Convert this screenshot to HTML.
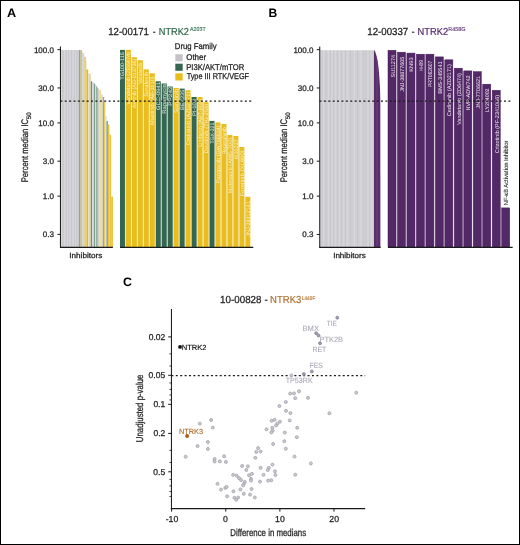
<!DOCTYPE html>
<html><head><meta charset="utf-8"><style>
html,body{margin:0;padding:0;background:#fff;}
svg{display:block;will-change:transform;}
text{font-family:"Liberation Sans", sans-serif;text-rendering:geometricPrecision;}
</style></head><body>
<svg width="520" height="545" viewBox="0 0 520 545">
<rect x="0.5" y="0.5" width="519" height="544" fill="#fff" stroke="#000" stroke-width="1"/>
<text x="6.98" y="16.85" font-size="12.2" fill="#000" textLength="9.15" lengthAdjust="spacingAndGlyphs" font-weight="bold">A</text>
<text x="108.16" y="34.80" font-size="10.2" fill="#1e1e1e" textLength="40.81" lengthAdjust="spacingAndGlyphs" stroke="#1e1e1e" stroke-width="0.26">12-00171</text>
<text x="152.64" y="34.80" font-size="10.2" fill="#1e1e1e" textLength="2.73" lengthAdjust="spacingAndGlyphs" stroke="#1e1e1e" stroke-width="0.26">-</text>
<text x="158.74" y="34.80" font-size="10.2" fill="#2c6549" textLength="30.22" lengthAdjust="spacingAndGlyphs" stroke="#2c6549" stroke-width="0.2">NTRK2</text>
<text x="190.09" y="30.90" font-size="5.6" fill="#3f7459" textLength="15.53" lengthAdjust="spacingAndGlyphs" stroke="#3f7459" stroke-width="0.15">A203T</text>
<rect x="60.95" y="50.00" width="17.85" height="197.00" fill="#d0cfd4" />
<rect x="78.80" y="50.00" width="1.85" height="197.00" fill="#8fa598" />
<rect x="80.65" y="50.00" width="1.45" height="197.00" fill="#e2c458" />
<rect x="82.10" y="52.00" width="2.15" height="195.00" fill="#d2d2e0" />
<rect x="84.25" y="56.90" width="1.65" height="190.10" fill="#e4c868" />
<rect x="85.90" y="60.00" width="0.50" height="187.00" fill="#e6d49a" />
<rect x="86.40" y="69.50" width="1.80" height="177.50" fill="#e8b918" />
<rect x="88.20" y="73.00" width="0.70" height="174.00" fill="#dcdce4" />
<rect x="88.90" y="73.60" width="1.90" height="173.40" fill="#e6d6a0" />
<rect x="90.80" y="81.20" width="1.30" height="165.80" fill="#6a9080" />
<rect x="92.10" y="82.00" width="1.70" height="165.00" fill="#d8d8dc" />
<rect x="93.80" y="83.50" width="1.30" height="163.50" fill="#80a090" />
<rect x="95.10" y="84.30" width="1.20" height="162.70" fill="#d8d8e4" />
<rect x="96.30" y="86.30" width="0.90" height="160.70" fill="#6f9585" />
<rect x="97.20" y="87.80" width="1.10" height="159.20" fill="#bcb064" />
<rect x="98.30" y="88.90" width="0.80" height="158.10" fill="#c4cac8" />
<rect x="99.10" y="90.00" width="2.00" height="157.00" fill="#eedc9c" />
<rect x="101.10" y="94.70" width="1.70" height="152.30" fill="#d6d6e2" />
<rect x="102.80" y="97.00" width="1.40" height="150.00" fill="#aaa86a" />
<rect x="104.20" y="102.00" width="1.10" height="145.00" fill="#e8c440" />
<rect x="105.30" y="116.00" width="1.30" height="131.00" fill="#d4d4e2" />
<rect x="106.60" y="121.00" width="1.20" height="126.00" fill="#6a9080" />
<rect x="107.80" y="124.60" width="1.60" height="122.40" fill="#e6c23c" />
<rect x="109.40" y="134.80" width="1.80" height="112.20" fill="#e8c448" />
<rect x="111.20" y="196.70" width="1.70" height="50.30" fill="#e9c030" />
<polygon points="82.1,49.9 84.3,49.9 84.3,55.2 82.1,50.0" fill="#fff"/>
<rect x="62.55" y="50.00" width="0.90" height="197.00" fill="#c7c6cb" />
<rect x="65.85" y="50.00" width="0.90" height="197.00" fill="#c7c6cb" />
<rect x="68.25" y="50.00" width="0.90" height="197.00" fill="#c7c6cb" />
<rect x="71.05" y="50.00" width="0.90" height="197.00" fill="#c7c6cb" />
<rect x="73.85" y="50.00" width="0.90" height="197.00" fill="#c7c6cb" />
<rect x="76.35" y="50.00" width="0.90" height="197.00" fill="#c7c6cb" />
<rect x="60.90" y="50.00" width="1.00" height="197.00" fill="#d9d9dd" />
<rect x="64.20" y="50.00" width="1.00" height="197.00" fill="#d9d9dd" />
<rect x="67.00" y="50.00" width="1.00" height="197.00" fill="#d9d9dd" />
<rect x="69.40" y="50.00" width="1.00" height="197.00" fill="#d9d9dd" />
<rect x="72.60" y="50.00" width="1.00" height="197.00" fill="#d9d9dd" />
<rect x="75.10" y="50.00" width="1.00" height="197.00" fill="#d9d9dd" />
<rect x="124.95" y="49.90" width="1.02" height="197.10" fill="#ede6c6" />
<rect x="130.92" y="57.20" width="1.02" height="189.80" fill="#f6ebc2" />
<rect x="136.89" y="60.20" width="1.02" height="186.80" fill="#f6ebc2" />
<rect x="142.86" y="69.40" width="1.02" height="177.60" fill="#f6ebc2" />
<rect x="148.83" y="73.30" width="1.02" height="173.70" fill="#f6ebc2" />
<rect x="154.80" y="81.30" width="1.02" height="165.70" fill="#ede6c6" />
<rect x="160.77" y="83.50" width="1.02" height="163.50" fill="#d2ddd6" />
<rect x="166.74" y="86.50" width="1.02" height="160.50" fill="#d2ddd6" />
<rect x="172.71" y="88.00" width="1.02" height="159.00" fill="#ede6c6" />
<rect x="178.68" y="88.60" width="1.02" height="158.40" fill="#ede6c6" />
<rect x="184.65" y="90.30" width="1.02" height="156.70" fill="#ede6c6" />
<rect x="190.62" y="97.00" width="1.02" height="150.00" fill="#ede6c6" />
<rect x="196.59" y="97.00" width="1.02" height="150.00" fill="#ede6c6" />
<rect x="202.56" y="102.20" width="1.02" height="144.80" fill="#f6ebc2" />
<rect x="208.53" y="120.90" width="1.02" height="126.10" fill="#ede6c6" />
<rect x="214.50" y="122.40" width="1.02" height="124.60" fill="#ede6c6" />
<rect x="220.47" y="124.00" width="1.02" height="123.00" fill="#f6ebc2" />
<rect x="226.44" y="135.00" width="1.02" height="112.00" fill="#f6ebc2" />
<rect x="232.41" y="136.00" width="1.02" height="111.00" fill="#f6ebc2" />
<rect x="238.38" y="147.00" width="1.02" height="100.00" fill="#f6ebc2" />
<rect x="244.35" y="196.80" width="1.02" height="50.20" fill="#f6ebc2" />
<rect x="120.00" y="49.90" width="4.95" height="197.10" fill="#356750" />
<rect x="125.97" y="49.90" width="4.95" height="197.10" fill="#e9bd1d" />
<rect x="131.94" y="57.20" width="4.95" height="189.80" fill="#e9bd1d" />
<rect x="137.91" y="60.20" width="4.95" height="186.80" fill="#e9bd1d" />
<rect x="143.88" y="69.40" width="4.95" height="177.60" fill="#e9bd1d" />
<rect x="149.85" y="73.30" width="4.95" height="173.70" fill="#e9bd1d" />
<rect x="155.82" y="81.30" width="4.95" height="165.70" fill="#356750" />
<rect x="161.79" y="83.50" width="4.95" height="163.50" fill="#356750" />
<rect x="167.76" y="86.50" width="4.95" height="160.50" fill="#356750" />
<rect x="173.73" y="88.00" width="4.95" height="159.00" fill="#e9bd1d" />
<rect x="179.70" y="88.60" width="4.95" height="158.40" fill="#356750" />
<rect x="185.67" y="90.30" width="4.95" height="156.70" fill="#e9bd1d" />
<rect x="191.64" y="97.00" width="4.95" height="150.00" fill="#356750" />
<rect x="197.61" y="97.00" width="4.95" height="150.00" fill="#e9bd1d" />
<rect x="203.58" y="102.20" width="4.95" height="144.80" fill="#e9bd1d" />
<rect x="209.55" y="120.90" width="4.95" height="126.10" fill="#356750" />
<rect x="215.52" y="122.40" width="4.95" height="124.60" fill="#e9bd1d" />
<rect x="221.49" y="124.00" width="4.95" height="123.00" fill="#e9bd1d" />
<rect x="227.46" y="135.00" width="4.95" height="112.00" fill="#e9bd1d" />
<rect x="233.43" y="136.00" width="4.95" height="111.00" fill="#e9bd1d" />
<rect x="239.40" y="147.00" width="4.95" height="100.00" fill="#e9bd1d" />
<rect x="245.37" y="196.80" width="4.95" height="50.20" fill="#e9bd1d" />
<text transform="translate(124.30,79.72) rotate(-90)" font-size="5.1" fill="#e6eee9" textLength="27.55" lengthAdjust="spacingAndGlyphs">TG100-115</text>
<text transform="translate(130.27,104.62) rotate(-90)" font-size="5.1" fill="#fcf3d0" textLength="52.57" lengthAdjust="spacingAndGlyphs">Vandetanib (ZD6474)</text>
<text transform="translate(136.24,108.31) rotate(-90)" font-size="5.1" fill="#fcf3d0" textLength="49.64" lengthAdjust="spacingAndGlyphs">Axitinib (AG-013736)</text>
<text transform="translate(142.21,84.02) rotate(-90)" font-size="5.1" fill="#fcf3d0" textLength="21.54" lengthAdjust="spacingAndGlyphs">Vatalanib</text>
<text transform="translate(148.18,96.76) rotate(-90)" font-size="5.1" fill="#fcf3d0" textLength="24.70" lengthAdjust="spacingAndGlyphs">Sorafenib</text>
<text transform="translate(154.15,124.95) rotate(-90)" font-size="5.1" fill="#fcf3d0" textLength="48.60" lengthAdjust="spacingAndGlyphs">Masitinib (AB-1010)</text>
<text transform="translate(160.12,109.89) rotate(-90)" font-size="5.1" fill="#e6eee9" textLength="27.78" lengthAdjust="spacingAndGlyphs">GDC-0941</text>
<text transform="translate(166.09,113.78) rotate(-90)" font-size="5.1" fill="#e6eee9" textLength="29.57" lengthAdjust="spacingAndGlyphs">Rapamycin</text>
<text transform="translate(172.06,105.73) rotate(-90)" font-size="5.1" fill="#e6eee9" textLength="19.25" lengthAdjust="spacingAndGlyphs">PP242</text>
<text transform="translate(178.03,112.89) rotate(-90)" font-size="5.1" fill="#fcf3d0" textLength="24.15" lengthAdjust="spacingAndGlyphs">Sunitinib</text>
<text transform="translate(184.00,110.07) rotate(-90)" font-size="5.1" fill="#e6eee9" textLength="20.50" lengthAdjust="spacingAndGlyphs">BEZ235</text>
<text transform="translate(189.97,145.19) rotate(-90)" font-size="5.1" fill="#fcf3d0" textLength="53.54" lengthAdjust="spacingAndGlyphs">Cediranib (AZD2171)</text>
<text transform="translate(195.94,115.97) rotate(-90)" font-size="5.1" fill="#e6eee9" textLength="16.82" lengthAdjust="spacingAndGlyphs">PI-103</text>
<text transform="translate(201.91,146.86) rotate(-90)" font-size="5.1" fill="#fcf3d0" textLength="47.80" lengthAdjust="spacingAndGlyphs">Linifanib (ABT-869)</text>
<text transform="translate(207.88,153.49) rotate(-90)" font-size="5.1" fill="#fcf3d0" textLength="50.07" lengthAdjust="spacingAndGlyphs">Dovitinib (TKI-258)</text>
<text transform="translate(213.85,143.62) rotate(-90)" font-size="5.1" fill="#e6eee9" textLength="20.97" lengthAdjust="spacingAndGlyphs">TGX-221</text>
<text transform="translate(219.82,183.34) rotate(-90)" font-size="5.1" fill="#fcf3d0" textLength="57.88" lengthAdjust="spacingAndGlyphs">Pazopanib (GW786034)</text>
<text transform="translate(225.79,154.31) rotate(-90)" font-size="5.1" fill="#fcf3d0" textLength="27.12" lengthAdjust="spacingAndGlyphs">Regorafenib</text>
<text transform="translate(231.76,193.26) rotate(-90)" font-size="5.1" fill="#fcf3d0" textLength="55.41" lengthAdjust="spacingAndGlyphs">Motesanib (AMG-706)</text>
<text transform="translate(237.73,159.35) rotate(-90)" font-size="5.1" fill="#fcf3d0" textLength="20.13" lengthAdjust="spacingAndGlyphs">Ki20227</text>
<text transform="translate(243.70,196.59) rotate(-90)" font-size="5.1" fill="#fcf3d0" textLength="46.36" lengthAdjust="spacingAndGlyphs">Foretinib (XL880)</text>
<text transform="translate(249.67,236.79) rotate(-90)" font-size="5.1" fill="#fcf3d0" textLength="35.65" lengthAdjust="spacingAndGlyphs">JNJ-28312141</text>
<line x1="60.30" y1="101.05" x2="252.00" y2="101.05" stroke="#1a1a1a" stroke-width="1.2" stroke-dasharray="2 2.393"/>
<line x1="60.45" y1="46.60" x2="60.45" y2="247.90" stroke="#1a1a1a" stroke-width="1.05" />
<line x1="57.45" y1="49.67" x2="60.45" y2="49.67" stroke="#1a1a1a" stroke-width="1.0" />
<text x="33.89" y="52.62" font-size="8.0" fill="#1e1e1e" textLength="20.02" lengthAdjust="spacingAndGlyphs" stroke="#1e1e1e" stroke-width="0.26">100.0</text>
<line x1="57.45" y1="87.96" x2="60.45" y2="87.96" stroke="#1a1a1a" stroke-width="1.0" />
<text x="38.34" y="90.91" font-size="8.0" fill="#1e1e1e" textLength="15.57" lengthAdjust="spacingAndGlyphs" stroke="#1e1e1e" stroke-width="0.26">30.0</text>
<line x1="57.45" y1="122.90" x2="60.45" y2="122.90" stroke="#1a1a1a" stroke-width="1.0" />
<text x="38.34" y="125.85" font-size="8.0" fill="#1e1e1e" textLength="15.57" lengthAdjust="spacingAndGlyphs" stroke="#1e1e1e" stroke-width="0.26">10.0</text>
<line x1="57.45" y1="161.19" x2="60.45" y2="161.19" stroke="#1a1a1a" stroke-width="1.0" />
<text x="42.79" y="164.14" font-size="8.0" fill="#1e1e1e" textLength="11.12" lengthAdjust="spacingAndGlyphs" stroke="#1e1e1e" stroke-width="0.26">3.0</text>
<line x1="57.45" y1="196.13" x2="60.45" y2="196.13" stroke="#1a1a1a" stroke-width="1.0" />
<text x="42.79" y="199.08" font-size="8.0" fill="#1e1e1e" textLength="11.12" lengthAdjust="spacingAndGlyphs" stroke="#1e1e1e" stroke-width="0.26">1.0</text>
<line x1="57.45" y1="234.42" x2="60.45" y2="234.42" stroke="#1a1a1a" stroke-width="1.0" />
<text x="42.83" y="237.37" font-size="8.0" fill="#1e1e1e" textLength="11.12" lengthAdjust="spacingAndGlyphs" stroke="#1e1e1e" stroke-width="0.26">0.3</text>
<text transform="translate(27.90,182.23) rotate(-90)" font-size="9.6" fill="#1e1e1e" textLength="63.32" lengthAdjust="spacingAndGlyphs" stroke="#1e1e1e" stroke-width="0.26">Percent median IC</text>
<text transform="translate(30.60,119.25) rotate(-90)" font-size="6.4" fill="#1e1e1e" textLength="6.89" lengthAdjust="spacingAndGlyphs" stroke="#1e1e1e" stroke-width="0.26">50</text>
<line x1="60.00" y1="247.40" x2="112.90" y2="247.40" stroke="#1a1a1a" stroke-width="1.1" />
<line x1="120.00" y1="247.40" x2="253.30" y2="247.40" stroke="#1a1a1a" stroke-width="1.1" />
<text x="69.25" y="257.80" font-size="7.6" fill="#1e1e1e" textLength="33.05" lengthAdjust="spacingAndGlyphs" stroke="#1e1e1e" stroke-width="0.26">Inhibitors</text>
<text x="174.86" y="48.95" font-size="8.4" fill="#1e1e1e" textLength="41.75" lengthAdjust="spacingAndGlyphs" stroke="#1e1e1e" stroke-width="0.26">Drug Family</text>
<rect x="175.30" y="54.20" width="7.40" height="7.10" fill="#c4c2c7" />
<rect x="175.30" y="63.70" width="7.40" height="7.10" fill="#346650" />
<rect x="175.30" y="73.30" width="7.40" height="7.20" fill="#e8bc1c" />
<text x="186.22" y="60.20" font-size="8.4" fill="#1e1e1e" textLength="19.91" lengthAdjust="spacingAndGlyphs" stroke="#1e1e1e" stroke-width="0.26">Other</text>
<text x="186.17" y="69.70" font-size="8.4" fill="#1e1e1e" textLength="58.18" lengthAdjust="spacingAndGlyphs" stroke="#1e1e1e" stroke-width="0.26">PI3K/AKT/mTOR</text>
<text x="186.64" y="78.70" font-size="8.4" fill="#1e1e1e" textLength="62.45" lengthAdjust="spacingAndGlyphs" stroke="#1e1e1e" stroke-width="0.26">Type III RTK/VEGF</text>
<text x="268.59" y="17.00" font-size="12.2" fill="#000" textLength="8.76" lengthAdjust="spacingAndGlyphs" font-weight="bold">B</text>
<text x="367.26" y="34.70" font-size="10.2" fill="#1e1e1e" textLength="41.03" lengthAdjust="spacingAndGlyphs" stroke="#1e1e1e" stroke-width="0.26">12-00337</text>
<text x="411.74" y="34.70" font-size="10.2" fill="#1e1e1e" textLength="2.73" lengthAdjust="spacingAndGlyphs" stroke="#1e1e1e" stroke-width="0.26">-</text>
<text x="417.53" y="34.70" font-size="10.2" fill="#56286d" textLength="30.64" lengthAdjust="spacingAndGlyphs" stroke="#56286d" stroke-width="0.2">NTRK2</text>
<text x="448.35" y="30.90" font-size="5.6" fill="#6a3f82" textLength="17.25" lengthAdjust="spacingAndGlyphs" stroke="#6a3f82" stroke-width="0.15">R458G</text>
<rect x="320.25" y="50.30" width="53.75" height="196.70" fill="#d0cfd4" />
<rect x="321.55" y="50.30" width="0.90" height="196.70" fill="#c7c6cb" />
<rect x="325.55" y="50.30" width="0.90" height="196.70" fill="#c7c6cb" />
<rect x="329.95" y="50.30" width="0.90" height="196.70" fill="#c7c6cb" />
<rect x="333.45" y="50.30" width="0.90" height="196.70" fill="#c7c6cb" />
<rect x="337.15" y="50.30" width="0.90" height="196.70" fill="#c7c6cb" />
<rect x="341.25" y="50.30" width="0.90" height="196.70" fill="#c7c6cb" />
<rect x="344.95" y="50.30" width="0.90" height="196.70" fill="#c7c6cb" />
<rect x="350.15" y="50.30" width="0.90" height="196.70" fill="#c7c6cb" />
<rect x="357.05" y="50.30" width="0.90" height="196.70" fill="#c7c6cb" />
<rect x="362.85" y="50.30" width="0.90" height="196.70" fill="#c7c6cb" />
<rect x="365.75" y="50.30" width="0.90" height="196.70" fill="#c7c6cb" />
<rect x="369.25" y="50.30" width="0.90" height="196.70" fill="#c7c6cb" />
<rect x="372.65" y="50.30" width="0.90" height="196.70" fill="#c7c6cb" />
<rect x="320.40" y="50.30" width="1.00" height="196.70" fill="#d9d9dd" />
<rect x="323.30" y="50.30" width="1.00" height="196.70" fill="#d9d9dd" />
<rect x="327.90" y="50.30" width="1.00" height="196.70" fill="#d9d9dd" />
<rect x="331.60" y="50.30" width="1.00" height="196.70" fill="#d9d9dd" />
<rect x="334.80" y="50.30" width="1.00" height="196.70" fill="#d9d9dd" />
<rect x="338.80" y="50.30" width="1.00" height="196.70" fill="#d9d9dd" />
<rect x="343.20" y="50.30" width="1.00" height="196.70" fill="#d9d9dd" />
<rect x="346.80" y="50.30" width="1.00" height="196.70" fill="#d9d9dd" />
<rect x="354.20" y="50.30" width="1.00" height="196.70" fill="#d9d9dd" />
<rect x="360.50" y="50.30" width="1.00" height="196.70" fill="#d9d9dd" />
<rect x="367.40" y="50.30" width="1.00" height="196.70" fill="#d9d9dd" />
<rect x="370.90" y="50.30" width="1.00" height="196.70" fill="#d9d9dd" />
<polygon points="374.0,50.3 375.0,51.0 376.6,56 377.8,62 378.6,68 379.4,78 380.0,88 380.3,100 380.4,247.0 374.0,247.0" fill="#5a2e6c"/>
<rect x="376.60" y="60.00" width="0.80" height="187.00" fill="#6f4a82" />
<rect x="396.00" y="52.20" width="1.48" height="194.80" fill="#f0e9f3" />
<rect x="405.48" y="53.10" width="1.47" height="193.90" fill="#f0e9f3" />
<rect x="414.95" y="54.20" width="1.48" height="192.80" fill="#f0e9f3" />
<rect x="424.43" y="54.20" width="1.47" height="192.80" fill="#f0e9f3" />
<rect x="433.90" y="56.90" width="1.48" height="190.10" fill="#f0e9f3" />
<rect x="443.38" y="59.80" width="1.48" height="187.20" fill="#f0e9f3" />
<rect x="452.85" y="68.20" width="1.47" height="178.80" fill="#f0e9f3" />
<rect x="462.32" y="70.90" width="1.48" height="176.10" fill="#f0e9f3" />
<rect x="471.80" y="71.70" width="1.47" height="175.30" fill="#f0e9f3" />
<rect x="481.27" y="84.20" width="1.48" height="162.80" fill="#f0e9f3" />
<rect x="490.75" y="90.30" width="1.48" height="156.70" fill="#f0e9f3" />
<rect x="500.23" y="207.90" width="1.47" height="39.10" fill="#f0e9f3" />
<rect x="388.00" y="50.30" width="8.00" height="196.70" fill="#532866" stroke="#44195a" stroke-width="0.5"/>
<rect x="397.48" y="52.20" width="8.00" height="194.80" fill="#532866" stroke="#44195a" stroke-width="0.5"/>
<rect x="406.95" y="53.10" width="8.00" height="193.90" fill="#532866" stroke="#44195a" stroke-width="0.5"/>
<rect x="416.43" y="54.20" width="8.00" height="192.80" fill="#532866" stroke="#44195a" stroke-width="0.5"/>
<rect x="425.90" y="54.20" width="8.00" height="192.80" fill="#532866" stroke="#44195a" stroke-width="0.5"/>
<rect x="435.38" y="56.90" width="8.00" height="190.10" fill="#532866" stroke="#44195a" stroke-width="0.5"/>
<rect x="444.85" y="59.80" width="8.00" height="187.20" fill="#532866" stroke="#44195a" stroke-width="0.5"/>
<rect x="454.32" y="68.20" width="8.00" height="178.80" fill="#532866" stroke="#44195a" stroke-width="0.5"/>
<rect x="463.80" y="70.90" width="8.00" height="176.10" fill="#532866" stroke="#44195a" stroke-width="0.5"/>
<rect x="473.27" y="71.70" width="8.00" height="175.30" fill="#532866" stroke="#44195a" stroke-width="0.5"/>
<rect x="482.75" y="84.20" width="8.00" height="162.80" fill="#532866" stroke="#44195a" stroke-width="0.5"/>
<rect x="492.23" y="90.30" width="8.00" height="156.70" fill="#532866" stroke="#44195a" stroke-width="0.5"/>
<rect x="501.70" y="207.90" width="8.00" height="39.10" fill="#532866" stroke="#44195a" stroke-width="0.5"/>
<text transform="translate(394.50,77.55) rotate(-90)" font-size="5.4" fill="#f4eef7" textLength="22.60" lengthAdjust="spacingAndGlyphs">SU11274</text>
<text transform="translate(403.98,91.78) rotate(-90)" font-size="5.4" fill="#f4eef7" textLength="35.11" lengthAdjust="spacingAndGlyphs">JNJ-38877605</text>
<text transform="translate(413.45,71.77) rotate(-90)" font-size="5.4" fill="#f4eef7" textLength="14.43" lengthAdjust="spacingAndGlyphs">KN93</text>
<text transform="translate(422.93,70.91) rotate(-90)" font-size="5.4" fill="#f4eef7" textLength="10.85" lengthAdjust="spacingAndGlyphs">H-89</text>
<text transform="translate(432.40,87.11) rotate(-90)" font-size="5.4" fill="#f4eef7" textLength="26.35" lengthAdjust="spacingAndGlyphs">PRT062607</text>
<text transform="translate(441.88,93.75) rotate(-90)" font-size="5.4" fill="#f4eef7" textLength="32.32" lengthAdjust="spacingAndGlyphs">BMS-345541</text>
<text transform="translate(451.35,116.18) rotate(-90)" font-size="5.4" fill="#f4eef7" textLength="52.02" lengthAdjust="spacingAndGlyphs">Cediranib (AZD2171)</text>
<text transform="translate(460.82,124.82) rotate(-90)" font-size="5.4" fill="#f4eef7" textLength="51.76" lengthAdjust="spacingAndGlyphs">Vandetanib (ZD6474)</text>
<text transform="translate(470.30,110.55) rotate(-90)" font-size="5.4" fill="#f4eef7" textLength="35.23" lengthAdjust="spacingAndGlyphs">NVP-ADW742</text>
<text transform="translate(479.77,108.49) rotate(-90)" font-size="5.4" fill="#f4eef7" textLength="32.65" lengthAdjust="spacingAndGlyphs">JNJ-7706621</text>
<text transform="translate(489.25,111.92) rotate(-90)" font-size="5.4" fill="#f4eef7" textLength="23.38" lengthAdjust="spacingAndGlyphs">LY294002</text>
<text transform="translate(498.73,153.18) rotate(-90)" font-size="5.4" fill="#f4eef7" textLength="58.22" lengthAdjust="spacingAndGlyphs">Crizotinib (PF-2341066)</text>
<text transform="translate(508.30,205.27) rotate(-90)" font-size="6.0" fill="#1e1e1e" textLength="64.77" lengthAdjust="spacingAndGlyphs" stroke="#1e1e1e" stroke-width="0.08">NF-κB Activation Inhibitor</text>
<line x1="319.50" y1="101.05" x2="510.70" y2="101.05" stroke="#1a1a1a" stroke-width="1.2" stroke-dasharray="2 2.393"/>
<line x1="319.75" y1="46.60" x2="319.75" y2="247.90" stroke="#1a1a1a" stroke-width="1.05" />
<line x1="316.75" y1="49.67" x2="319.75" y2="49.67" stroke="#1a1a1a" stroke-width="1.0" />
<text x="293.39" y="52.62" font-size="8.0" fill="#1e1e1e" textLength="20.02" lengthAdjust="spacingAndGlyphs" stroke="#1e1e1e" stroke-width="0.26">100.0</text>
<line x1="316.75" y1="87.96" x2="319.75" y2="87.96" stroke="#1a1a1a" stroke-width="1.0" />
<text x="297.84" y="90.91" font-size="8.0" fill="#1e1e1e" textLength="15.57" lengthAdjust="spacingAndGlyphs" stroke="#1e1e1e" stroke-width="0.26">30.0</text>
<line x1="316.75" y1="122.90" x2="319.75" y2="122.90" stroke="#1a1a1a" stroke-width="1.0" />
<text x="297.84" y="125.85" font-size="8.0" fill="#1e1e1e" textLength="15.57" lengthAdjust="spacingAndGlyphs" stroke="#1e1e1e" stroke-width="0.26">10.0</text>
<line x1="316.75" y1="161.19" x2="319.75" y2="161.19" stroke="#1a1a1a" stroke-width="1.0" />
<text x="302.29" y="164.14" font-size="8.0" fill="#1e1e1e" textLength="11.12" lengthAdjust="spacingAndGlyphs" stroke="#1e1e1e" stroke-width="0.26">3.0</text>
<line x1="316.75" y1="196.13" x2="319.75" y2="196.13" stroke="#1a1a1a" stroke-width="1.0" />
<text x="302.29" y="199.08" font-size="8.0" fill="#1e1e1e" textLength="11.12" lengthAdjust="spacingAndGlyphs" stroke="#1e1e1e" stroke-width="0.26">1.0</text>
<line x1="316.75" y1="234.42" x2="319.75" y2="234.42" stroke="#1a1a1a" stroke-width="1.0" />
<text x="302.33" y="237.37" font-size="8.0" fill="#1e1e1e" textLength="11.12" lengthAdjust="spacingAndGlyphs" stroke="#1e1e1e" stroke-width="0.26">0.3</text>
<text transform="translate(287.40,182.23) rotate(-90)" font-size="9.6" fill="#1e1e1e" textLength="63.32" lengthAdjust="spacingAndGlyphs" stroke="#1e1e1e" stroke-width="0.26">Percent median IC</text>
<text transform="translate(290.10,119.25) rotate(-90)" font-size="6.4" fill="#1e1e1e" textLength="6.89" lengthAdjust="spacingAndGlyphs" stroke="#1e1e1e" stroke-width="0.26">50</text>
<line x1="319.40" y1="247.40" x2="380.70" y2="247.40" stroke="#1a1a1a" stroke-width="1.1" />
<line x1="388.00" y1="247.40" x2="512.70" y2="247.40" stroke="#1a1a1a" stroke-width="1.1" />
<text x="333.16" y="257.80" font-size="7.6" fill="#1e1e1e" textLength="32.53" lengthAdjust="spacingAndGlyphs" stroke="#1e1e1e" stroke-width="0.26">Inhibitors</text>
<text x="122.99" y="285.90" font-size="12.2" fill="#000" textLength="8.95" lengthAdjust="spacingAndGlyphs" font-weight="bold">C</text>
<text x="220.05" y="302.90" font-size="10.2" fill="#1e1e1e" textLength="41.47" lengthAdjust="spacingAndGlyphs" stroke="#1e1e1e" stroke-width="0.26">10-00828</text>
<text x="264.46" y="302.90" font-size="10.2" fill="#1e1e1e" textLength="3.27" lengthAdjust="spacingAndGlyphs" stroke="#1e1e1e" stroke-width="0.26">-</text>
<text x="270.12" y="302.90" font-size="10.2" fill="#b07030" textLength="31.20" lengthAdjust="spacingAndGlyphs" stroke="#b07030" stroke-width="0.2">NTRK3</text>
<text x="301.81" y="299.80" font-size="5.6" fill="#b87c3c" textLength="13.58" lengthAdjust="spacingAndGlyphs" stroke="#b87c3c" stroke-width="0.15">L449F</text>
<line x1="171.45" y1="308.90" x2="171.45" y2="509.10" stroke="#1a1a1a" stroke-width="1.05" />
<line x1="170.80" y1="508.60" x2="365.20" y2="508.60" stroke="#1a1a1a" stroke-width="1.1" />
<line x1="168.20" y1="336.90" x2="171.45" y2="336.90" stroke="#1a1a1a" stroke-width="1.0" />
<text x="148.68" y="339.90" font-size="8.5" fill="#1e1e1e" textLength="16.54" lengthAdjust="spacingAndGlyphs" stroke="#1e1e1e" stroke-width="0.26">0.02</text>
<line x1="168.20" y1="375.30" x2="171.45" y2="375.30" stroke="#1a1a1a" stroke-width="1.0" />
<text x="148.61" y="378.30" font-size="8.5" fill="#1e1e1e" textLength="16.54" lengthAdjust="spacingAndGlyphs" stroke="#1e1e1e" stroke-width="0.26">0.05</text>
<line x1="168.20" y1="404.35" x2="171.45" y2="404.35" stroke="#1a1a1a" stroke-width="1.0" />
<text x="153.40" y="407.35" font-size="8.5" fill="#1e1e1e" textLength="11.82" lengthAdjust="spacingAndGlyphs" stroke="#1e1e1e" stroke-width="0.26">0.1</text>
<line x1="168.20" y1="433.40" x2="171.45" y2="433.40" stroke="#1a1a1a" stroke-width="1.0" />
<text x="153.41" y="436.40" font-size="8.5" fill="#1e1e1e" textLength="11.82" lengthAdjust="spacingAndGlyphs" stroke="#1e1e1e" stroke-width="0.26">0.2</text>
<line x1="168.20" y1="471.80" x2="171.45" y2="471.80" stroke="#1a1a1a" stroke-width="1.0" />
<text x="153.34" y="474.80" font-size="8.5" fill="#1e1e1e" textLength="11.82" lengthAdjust="spacingAndGlyphs" stroke="#1e1e1e" stroke-width="0.26">0.5</text>
<line x1="169.40" y1="353.89" x2="171.45" y2="353.89" stroke="#1a1a1a" stroke-width="0.8" />
<line x1="169.40" y1="365.95" x2="171.45" y2="365.95" stroke="#1a1a1a" stroke-width="0.8" />
<line x1="169.40" y1="382.94" x2="171.45" y2="382.94" stroke="#1a1a1a" stroke-width="0.8" />
<line x1="169.40" y1="389.40" x2="171.45" y2="389.40" stroke="#1a1a1a" stroke-width="0.8" />
<line x1="169.40" y1="395.00" x2="171.45" y2="395.00" stroke="#1a1a1a" stroke-width="0.8" />
<line x1="169.40" y1="399.94" x2="171.45" y2="399.94" stroke="#1a1a1a" stroke-width="0.8" />
<line x1="169.40" y1="450.39" x2="171.45" y2="450.39" stroke="#1a1a1a" stroke-width="0.8" />
<line x1="169.40" y1="462.45" x2="171.45" y2="462.45" stroke="#1a1a1a" stroke-width="0.8" />
<line x1="169.40" y1="479.44" x2="171.45" y2="479.44" stroke="#1a1a1a" stroke-width="0.8" />
<line x1="169.40" y1="485.90" x2="171.45" y2="485.90" stroke="#1a1a1a" stroke-width="0.8" />
<line x1="169.40" y1="491.50" x2="171.45" y2="491.50" stroke="#1a1a1a" stroke-width="0.8" />
<line x1="169.40" y1="496.44" x2="171.45" y2="496.44" stroke="#1a1a1a" stroke-width="0.8" />
<line x1="171.62" y1="508.60" x2="171.62" y2="511.60" stroke="#1a1a1a" stroke-width="1.0" />
<text x="165.66" y="521.60" font-size="8.7" fill="#1e1e1e" textLength="12.57" lengthAdjust="spacingAndGlyphs" stroke="#1e1e1e" stroke-width="0.26">-10</text>
<line x1="225.75" y1="508.60" x2="225.75" y2="511.60" stroke="#1a1a1a" stroke-width="1.0" />
<text x="223.03" y="521.60" font-size="8.7" fill="#1e1e1e" textLength="4.84" lengthAdjust="spacingAndGlyphs" stroke="#1e1e1e" stroke-width="0.26">0</text>
<line x1="279.88" y1="508.60" x2="279.88" y2="511.60" stroke="#1a1a1a" stroke-width="1.0" />
<text x="275.13" y="521.60" font-size="8.7" fill="#1e1e1e" textLength="9.68" lengthAdjust="spacingAndGlyphs" stroke="#1e1e1e" stroke-width="0.26">10</text>
<line x1="334.01" y1="508.60" x2="334.01" y2="511.60" stroke="#1a1a1a" stroke-width="1.0" />
<text x="329.32" y="521.60" font-size="8.7" fill="#1e1e1e" textLength="9.68" lengthAdjust="spacingAndGlyphs" stroke="#1e1e1e" stroke-width="0.26">20</text>
<text x="230.26" y="535.60" font-size="10.0" fill="#1e1e1e" textLength="75.93" lengthAdjust="spacingAndGlyphs" stroke="#1e1e1e" stroke-width="0.26">Difference in medians</text>
<text transform="translate(143.00,442.20) rotate(-90)" font-size="10.0" fill="#1e1e1e" textLength="67.55" lengthAdjust="spacingAndGlyphs" stroke="#1e1e1e" stroke-width="0.26">Unadjusted p-value</text>
<line x1="171.40" y1="375.60" x2="365.20" y2="375.60" stroke="#1a1a1a" stroke-width="1.1" stroke-dasharray="2 2.393"/>
<circle cx="273.1" cy="444" r="1.5" fill="#cacad0" stroke="#a5a5b0" stroke-width="0.85"/>
<circle cx="258.1" cy="448.1" r="1.5" fill="#cacad0" stroke="#a5a5b0" stroke-width="0.85"/>
<circle cx="256.3" cy="451.9" r="1.5" fill="#cacad0" stroke="#a5a5b0" stroke-width="0.85"/>
<circle cx="260.6" cy="451.5" r="1.5" fill="#cacad0" stroke="#a5a5b0" stroke-width="0.85"/>
<circle cx="255.3" cy="457.8" r="1.5" fill="#cacad0" stroke="#a5a5b0" stroke-width="0.85"/>
<circle cx="224.1" cy="456.3" r="1.5" fill="#cacad0" stroke="#a5a5b0" stroke-width="0.85"/>
<circle cx="214.6" cy="459" r="1.5" fill="#cacad0" stroke="#a5a5b0" stroke-width="0.85"/>
<circle cx="214.6" cy="461.5" r="1.5" fill="#cacad0" stroke="#a5a5b0" stroke-width="0.85"/>
<circle cx="219.8" cy="461.3" r="1.5" fill="#cacad0" stroke="#a5a5b0" stroke-width="0.85"/>
<circle cx="225.9" cy="461.9" r="1.5" fill="#cacad0" stroke="#a5a5b0" stroke-width="0.85"/>
<circle cx="242.1" cy="466" r="1.5" fill="#cacad0" stroke="#a5a5b0" stroke-width="0.85"/>
<circle cx="247.9" cy="466.3" r="1.5" fill="#cacad0" stroke="#a5a5b0" stroke-width="0.85"/>
<circle cx="246.3" cy="470" r="1.5" fill="#cacad0" stroke="#a5a5b0" stroke-width="0.85"/>
<circle cx="260.6" cy="467.8" r="1.5" fill="#cacad0" stroke="#a5a5b0" stroke-width="0.85"/>
<circle cx="268.8" cy="467.8" r="1.5" fill="#cacad0" stroke="#a5a5b0" stroke-width="0.85"/>
<circle cx="267.8" cy="470" r="1.5" fill="#cacad0" stroke="#a5a5b0" stroke-width="0.85"/>
<circle cx="272.5" cy="464.6" r="1.5" fill="#cacad0" stroke="#a5a5b0" stroke-width="0.85"/>
<circle cx="275.0" cy="471.3" r="1.5" fill="#cacad0" stroke="#a5a5b0" stroke-width="0.85"/>
<circle cx="275.4" cy="475" r="1.5" fill="#cacad0" stroke="#a5a5b0" stroke-width="0.85"/>
<circle cx="233.1" cy="474.8" r="1.5" fill="#cacad0" stroke="#a5a5b0" stroke-width="0.85"/>
<circle cx="236.6" cy="475.6" r="1.5" fill="#cacad0" stroke="#a5a5b0" stroke-width="0.85"/>
<circle cx="239" cy="478.1" r="1.5" fill="#cacad0" stroke="#a5a5b0" stroke-width="0.85"/>
<circle cx="241" cy="480" r="1.5" fill="#cacad0" stroke="#a5a5b0" stroke-width="0.85"/>
<circle cx="249" cy="475.3" r="1.5" fill="#cacad0" stroke="#a5a5b0" stroke-width="0.85"/>
<circle cx="251.9" cy="473.8" r="1.5" fill="#cacad0" stroke="#a5a5b0" stroke-width="0.85"/>
<circle cx="251" cy="478.8" r="1.5" fill="#cacad0" stroke="#a5a5b0" stroke-width="0.85"/>
<circle cx="251" cy="480.6" r="1.5" fill="#cacad0" stroke="#a5a5b0" stroke-width="0.85"/>
<circle cx="263.5" cy="474.8" r="1.5" fill="#cacad0" stroke="#a5a5b0" stroke-width="0.85"/>
<circle cx="260" cy="481.6" r="1.5" fill="#cacad0" stroke="#a5a5b0" stroke-width="0.85"/>
<circle cx="268.1" cy="480.6" r="1.5" fill="#cacad0" stroke="#a5a5b0" stroke-width="0.85"/>
<circle cx="271.3" cy="480.3" r="1.5" fill="#cacad0" stroke="#a5a5b0" stroke-width="0.85"/>
<circle cx="244.8" cy="481.9" r="1.5" fill="#cacad0" stroke="#a5a5b0" stroke-width="0.85"/>
<circle cx="243.8" cy="484" r="1.5" fill="#cacad0" stroke="#a5a5b0" stroke-width="0.85"/>
<circle cx="243.1" cy="485.3" r="1.5" fill="#cacad0" stroke="#a5a5b0" stroke-width="0.85"/>
<circle cx="217.5" cy="483.8" r="1.5" fill="#cacad0" stroke="#a5a5b0" stroke-width="0.85"/>
<circle cx="221" cy="489.6" r="1.5" fill="#cacad0" stroke="#a5a5b0" stroke-width="0.85"/>
<circle cx="225.3" cy="487.9" r="1.5" fill="#cacad0" stroke="#a5a5b0" stroke-width="0.85"/>
<circle cx="226.6" cy="486.9" r="1.5" fill="#cacad0" stroke="#a5a5b0" stroke-width="0.85"/>
<circle cx="233.4" cy="491.3" r="1.5" fill="#cacad0" stroke="#a5a5b0" stroke-width="0.85"/>
<circle cx="240.4" cy="489.4" r="1.5" fill="#cacad0" stroke="#a5a5b0" stroke-width="0.85"/>
<circle cx="251.6" cy="489" r="1.5" fill="#cacad0" stroke="#a5a5b0" stroke-width="0.85"/>
<circle cx="243.8" cy="493.8" r="1.5" fill="#cacad0" stroke="#a5a5b0" stroke-width="0.85"/>
<circle cx="250" cy="494.6" r="1.5" fill="#cacad0" stroke="#a5a5b0" stroke-width="0.85"/>
<circle cx="254.8" cy="497.5" r="1.5" fill="#cacad0" stroke="#a5a5b0" stroke-width="0.85"/>
<circle cx="227.1" cy="496.3" r="1.5" fill="#cacad0" stroke="#a5a5b0" stroke-width="0.85"/>
<circle cx="234.4" cy="497.8" r="1.5" fill="#cacad0" stroke="#a5a5b0" stroke-width="0.85"/>
<circle cx="238.1" cy="497.5" r="1.5" fill="#cacad0" stroke="#a5a5b0" stroke-width="0.85"/>
<circle cx="236.3" cy="499.8" r="1.5" fill="#cacad0" stroke="#a5a5b0" stroke-width="0.85"/>
<circle cx="279.4" cy="406" r="1.5" fill="#cacad0" stroke="#a5a5b0" stroke-width="0.85"/>
<circle cx="286.0" cy="410.8" r="1.5" fill="#cacad0" stroke="#a5a5b0" stroke-width="0.85"/>
<circle cx="290.4" cy="413.1" r="1.5" fill="#cacad0" stroke="#a5a5b0" stroke-width="0.85"/>
<circle cx="329.4" cy="413.3" r="1.5" fill="#cacad0" stroke="#a5a5b0" stroke-width="0.85"/>
<circle cx="271.7" cy="420.8" r="1.5" fill="#cacad0" stroke="#a5a5b0" stroke-width="0.85"/>
<circle cx="274.6" cy="419.8" r="1.5" fill="#cacad0" stroke="#a5a5b0" stroke-width="0.85"/>
<circle cx="279.9" cy="421.7" r="1.5" fill="#cacad0" stroke="#a5a5b0" stroke-width="0.85"/>
<circle cx="289.7" cy="420.4" r="1.5" fill="#cacad0" stroke="#a5a5b0" stroke-width="0.85"/>
<circle cx="277.3" cy="423.7" r="1.5" fill="#cacad0" stroke="#a5a5b0" stroke-width="0.85"/>
<circle cx="276.1" cy="425.4" r="1.5" fill="#cacad0" stroke="#a5a5b0" stroke-width="0.85"/>
<circle cx="266.5" cy="429.3" r="1.5" fill="#cacad0" stroke="#a5a5b0" stroke-width="0.85"/>
<circle cx="272.3" cy="427.7" r="1.5" fill="#cacad0" stroke="#a5a5b0" stroke-width="0.85"/>
<circle cx="272.7" cy="430.6" r="1.5" fill="#cacad0" stroke="#a5a5b0" stroke-width="0.85"/>
<circle cx="271.4" cy="432.4" r="1.5" fill="#cacad0" stroke="#a5a5b0" stroke-width="0.85"/>
<circle cx="284.8" cy="432.6" r="1.5" fill="#cacad0" stroke="#a5a5b0" stroke-width="0.85"/>
<circle cx="297.2" cy="427.7" r="1.5" fill="#cacad0" stroke="#a5a5b0" stroke-width="0.85"/>
<circle cx="296.8" cy="437.2" r="1.5" fill="#cacad0" stroke="#a5a5b0" stroke-width="0.85"/>
<circle cx="284.3" cy="441.2" r="1.5" fill="#cacad0" stroke="#a5a5b0" stroke-width="0.85"/>
<circle cx="285.8" cy="448.7" r="1.5" fill="#cacad0" stroke="#a5a5b0" stroke-width="0.85"/>
<circle cx="294.5" cy="456.6" r="1.5" fill="#cacad0" stroke="#a5a5b0" stroke-width="0.85"/>
<circle cx="310.9" cy="463.4" r="1.5" fill="#cacad0" stroke="#a5a5b0" stroke-width="0.85"/>
<circle cx="295.3" cy="474.7" r="1.5" fill="#cacad0" stroke="#a5a5b0" stroke-width="0.85"/>
<circle cx="291.3" cy="375.4" r="1.5" fill="#cacad0" stroke="#a5a5b0" stroke-width="0.85"/>
<circle cx="290.2" cy="393.6" r="1.5" fill="#cacad0" stroke="#a5a5b0" stroke-width="0.85"/>
<circle cx="294" cy="393.4" r="1.5" fill="#cacad0" stroke="#a5a5b0" stroke-width="0.85"/>
<circle cx="299.0" cy="391.3" r="1.5" fill="#cacad0" stroke="#a5a5b0" stroke-width="0.85"/>
<circle cx="295.2" cy="398.2" r="1.5" fill="#cacad0" stroke="#a5a5b0" stroke-width="0.85"/>
<circle cx="285.8" cy="402" r="1.5" fill="#cacad0" stroke="#a5a5b0" stroke-width="0.85"/>
<circle cx="308" cy="397.8" r="1.5" fill="#cacad0" stroke="#a5a5b0" stroke-width="0.85"/>
<circle cx="356.3" cy="392.7" r="1.5" fill="#cacad0" stroke="#a5a5b0" stroke-width="0.85"/>
<circle cx="199.8" cy="423.6" r="1.5" fill="#cacad0" stroke="#a5a5b0" stroke-width="0.85"/>
<circle cx="211.1" cy="420" r="1.5" fill="#cacad0" stroke="#a5a5b0" stroke-width="0.85"/>
<circle cx="212.8" cy="427.6" r="1.5" fill="#cacad0" stroke="#a5a5b0" stroke-width="0.85"/>
<circle cx="207.9" cy="442" r="1.5" fill="#cacad0" stroke="#a5a5b0" stroke-width="0.85"/>
<circle cx="197.5" cy="446.1" r="1.5" fill="#cacad0" stroke="#a5a5b0" stroke-width="0.85"/>
<circle cx="207.9" cy="448.9" r="1.5" fill="#cacad0" stroke="#a5a5b0" stroke-width="0.85"/>
<circle cx="185.7" cy="456.7" r="1.5" fill="#cacad0" stroke="#a5a5b0" stroke-width="0.85"/>
<circle cx="337.3" cy="317.7" r="1.5" fill="#9c9cae" stroke="#88889c" stroke-width="0.8"/>
<circle cx="316.2" cy="333.2" r="1.5" fill="#9c9cae" stroke="#88889c" stroke-width="0.8"/>
<circle cx="318.5" cy="335.5" r="1.5" fill="#9c9cae" stroke="#88889c" stroke-width="0.8"/>
<circle cx="320.0" cy="343.2" r="1.5" fill="#9c9cae" stroke="#88889c" stroke-width="0.8"/>
<circle cx="311.8" cy="371.4" r="1.5" fill="#9c9cae" stroke="#88889c" stroke-width="0.8"/>
<circle cx="303.8" cy="374.1" r="1.5" fill="#9c9cae" stroke="#88889c" stroke-width="0.8"/>
<text x="326.86" y="325.70" font-size="7.6" fill="#a9a9b7" textLength="10.02" lengthAdjust="spacingAndGlyphs" stroke="#a9a9b7" stroke-width="0.1">TIE</text>
<text x="302.58" y="330.80" font-size="7.6" fill="#a9a9b7" textLength="16.38" lengthAdjust="spacingAndGlyphs" stroke="#a9a9b7" stroke-width="0.1">BMX</text>
<text x="319.49" y="341.60" font-size="7.6" fill="#a9a9b7" textLength="23.60" lengthAdjust="spacingAndGlyphs" stroke="#a9a9b7" stroke-width="0.1">PTK2B</text>
<text x="312.54" y="351.50" font-size="7.6" fill="#a9a9b7" textLength="13.72" lengthAdjust="spacingAndGlyphs" stroke="#a9a9b7" stroke-width="0.1">RET</text>
<text x="309.53" y="368.10" font-size="7.6" fill="#a9a9b7" textLength="13.49" lengthAdjust="spacingAndGlyphs" stroke="#a9a9b7" stroke-width="0.1">FES</text>
<text x="285.74" y="382.50" font-size="7.6" fill="#a9a9b7" textLength="26.94" lengthAdjust="spacingAndGlyphs" stroke="#a9a9b7" stroke-width="0.1">TP53RK</text>
<circle cx="180.05" cy="346.9" r="1.9" fill="#111"/>
<text x="181.68" y="349.70" font-size="7.4" fill="#111" textLength="24.80" lengthAdjust="spacingAndGlyphs" stroke="#111" stroke-width="0.15">NTRK2</text>
<circle cx="187.1" cy="436.0" r="2.0" fill="#a85e1c"/>
<text x="178.89" y="433.60" font-size="7.4" fill="#b06c28" textLength="24.23" lengthAdjust="spacingAndGlyphs" stroke="#b06c28" stroke-width="0.12">NTRK3</text>
</svg>
</body></html>
